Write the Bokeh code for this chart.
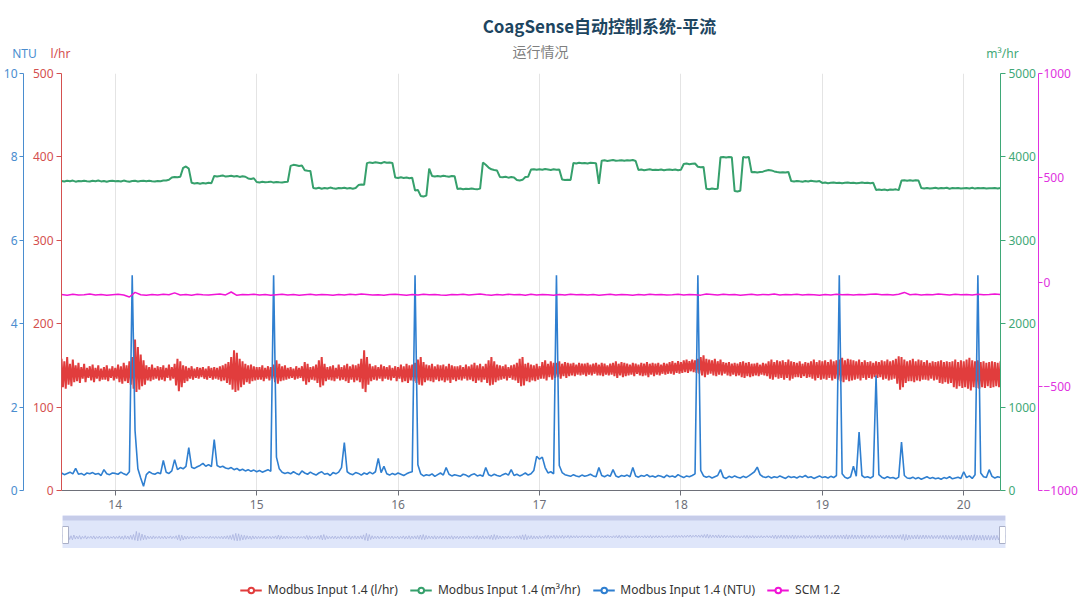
import numpy as np
from bokeh.plotting import figure
from bokeh.models import (Range1d, LinearAxis, FixedTicker, Label, Legend,
                          LegendItem, BoxAnnotation)
from bokeh.layouts import column
from bokeh.embed import file_html
from bokeh.resources import INLINE

# ---------------- data ----------------
X_START, X_END = 13.62, 20.26
X_TICKS = [14, 15, 16, 17, 18, 19, 20]
LHR_TICKS = [0, 100, 200, 300, 400, 500]
NTU_TICKS = [0, 2, 4, 6, 8, 10]
M3_TICKS = [0, 1000, 2000, 3000, 4000, 5000]
SCM_TICKS = [-1000, -500, 0, 500, 1000]

TITLE = "CoagSense自动控制系统-平流"
SUBTITLE = "运行情况"
UNITS = ["NTU", "l/hr", "m\u00b3/hr"]
SERIES_NAMES = ["Modbus Input 1.4 (l/hr)", "Modbus Input 1.4 (m\u00b3/hr)",
                "Modbus Input 1.4 (NTU)", "SCM 1.2"]

# sample spacing (days) of each logged series
RED_STEP = 0.01
GREEN_STEP = 0.02
BLUE_STEP = 0.02
SCM_STEP = 0.04

# Modbus Input 1.4 (l/hr)
red_lhr = [
    158, 124, 155, 122, 160, 127, 152, 125, 157, 130,
    150, 131, 153, 129, 148, 134, 152, 130, 147, 135,
    149, 132, 151, 130, 147, 134, 150, 131, 146, 133,
    148, 133, 150, 131, 146, 135, 149, 132, 147, 134,
    151, 130, 149, 128, 153, 131, 150, 129, 155, 127,
    160, 122, 181, 118, 172, 121, 163, 125, 156, 127,
    150, 132, 148, 131, 151, 133, 147, 134, 149, 132,
    148, 133, 150, 131, 147, 135, 151, 132, 148, 134,
    152, 126, 158, 119, 155, 124, 150, 129, 149, 131,
    147, 134, 149, 133, 146, 135, 148, 134, 147, 136,
    148, 134, 146, 133, 149, 135, 147, 133, 148, 134,
    147, 133, 149, 131, 150, 132, 152, 129, 154, 127,
    160, 121, 168, 118, 165, 120, 158, 124, 155, 127,
    152, 130, 150, 128, 151, 131, 149, 132, 148, 133,
    148, 133, 150, 131, 147, 134, 149, 132, 148, 134,
    151, 130, 156, 128, 152, 131, 149, 132, 150, 133,
    147, 134, 148, 135, 146, 133, 149, 134, 147, 135,
    149, 131, 154, 127, 152, 130, 148, 133, 149, 132,
    151, 129, 156, 124, 160, 126, 152, 131, 148, 133,
    149, 132, 150, 131, 147, 134, 151, 132, 148, 133,
    150, 131, 152, 129, 149, 133, 151, 130, 150, 132,
    152, 130, 158, 122, 168, 118, 160, 127, 152, 131,
    149, 133, 150, 132, 148, 134, 151, 131, 149, 134,
    148, 133, 150, 132, 147, 135, 149, 131, 148, 134,
    151, 130, 149, 131, 152, 129, 150, 132, 151, 131,
    153, 129, 157, 127, 160, 126, 154, 130, 151, 132,
    150, 131, 152, 130, 149, 133, 151, 131, 150, 132,
    151, 130, 149, 132, 152, 129, 150, 133, 149, 131,
    149, 133, 150, 132, 148, 134, 151, 132, 149, 133,
    151, 131, 153, 129, 150, 132, 152, 130, 149, 133,
    152, 129, 156, 126, 160, 127, 155, 130, 151, 132,
    150, 133, 149, 134, 151, 132, 148, 135, 150, 133,
    151, 132, 153, 129, 158, 125, 160, 126, 152, 131,
    153, 130, 151, 132, 150, 131, 152, 133, 149, 134,
    154, 134, 156, 132, 152, 136, 155, 133, 153, 135,
    153, 136, 155, 134, 152, 137, 154, 135, 153, 137,
    152, 138, 153, 137, 151, 139, 153, 138, 152, 139,
    152, 137, 153, 139, 151, 138, 152, 140, 153, 138,
    151, 138, 153, 137, 152, 139, 150, 138, 152, 139,
    153, 137, 155, 135, 152, 138, 154, 136, 153, 137,
    152, 138, 151, 139, 153, 137, 152, 140, 151, 138,
    153, 137, 152, 138, 154, 136, 152, 139, 153, 137,
    152, 139, 153, 138, 151, 140, 153, 139, 152, 140,
    154, 140, 155, 139, 153, 141, 155, 140, 154, 141,
    156, 142, 157, 141, 155, 143, 157, 142, 156, 141,
    158, 140, 160, 138, 162, 136, 158, 139, 157, 140,
    156, 138, 158, 137, 155, 139, 157, 138, 154, 140,
    153, 138, 154, 137, 152, 139, 153, 137, 152, 138,
    154, 136, 155, 135, 153, 137, 154, 136, 152, 137,
    152, 138, 153, 137, 151, 139, 153, 138, 152, 137,
    155, 134, 157, 133, 154, 136, 156, 134, 155, 135,
    156, 133, 154, 135, 157, 132, 155, 134, 154, 136,
    153, 136, 155, 135, 152, 137, 154, 135, 153, 136,
    155, 134, 157, 132, 154, 135, 156, 133, 155, 134,
    156, 133, 154, 135, 157, 132, 155, 134, 156, 133,
    157, 131, 159, 130, 156, 133, 158, 131, 157, 132,
    156, 133, 155, 134, 157, 132, 154, 135, 156, 133,
    154, 135, 155, 134, 153, 136, 155, 135, 154, 136,
    156, 133, 155, 134, 157, 132, 155, 133, 156, 134,
    158, 128, 161, 121, 160, 124, 157, 129, 155, 131,
    156, 131, 158, 130, 155, 132, 157, 131, 156, 133,
    154, 133, 156, 132, 153, 134, 155, 132, 154, 133,
    155, 129, 156, 128, 154, 130, 155, 128, 154, 129,
    155, 124, 157, 122, 154, 125, 156, 123, 155, 124,
    157, 122, 159, 120, 156, 124, 155, 123, 156, 122,
    154, 124, 155, 123, 153, 125, 154, 123, 155, 124,
    154, 125, 153, 124, 155,
]

# Modbus Input 1.4 (m3/hr)
green_m3 = [
    3712, 3705, 3714, 3708, 3716, 3703, 3711, 3707, 3715, 3709,
    3704, 3713, 3709, 3717, 3706, 3711, 3702, 3710, 3714, 3707,
    3712, 3705, 3716, 3708, 3703, 3711, 3714, 3706, 3710, 3713,
    3707, 3715, 3709, 3704, 3712, 3708, 3716, 3718, 3725, 3752,
    3760, 3755, 3762, 3869, 3885, 3860, 3690, 3682, 3688, 3679,
    3686, 3681, 3690, 3684, 3772, 3765, 3770, 3778, 3764, 3769,
    3773, 3766, 3771, 3760, 3768, 3762, 3742, 3736, 3744, 3699,
    3694, 3701, 3695, 3698, 3703, 3692, 3700, 3696, 3693, 3699,
    3702, 3893, 3905, 3899, 3890, 3896, 3840, 3835, 3832, 3628,
    3622, 3630, 3618, 3627, 3621, 3632, 3624, 3619, 3628, 3623,
    3630, 3621, 3626, 3619, 3627, 3662, 3668, 3665, 3925, 3934,
    3928, 3936, 3931, 3924, 3938, 3929, 3933, 3927, 3752, 3746,
    3755, 3748, 3753, 3744, 3750, 3598, 3604, 3532, 3525, 3536,
    3860, 3772, 3765, 3770, 3766, 3774, 3768, 3763, 3771, 3767,
    3615, 3621, 3612, 3619, 3614, 3622, 3616, 3611, 3620, 3932,
    3905, 3872, 3851, 3843, 3836, 3760, 3755, 3762, 3751, 3758,
    3754, 3722, 3716, 3725, 3759, 3763, 3848, 3853, 3845, 3851,
    3846, 3855, 3849, 3843, 3852, 3847, 3850, 3728, 3722, 3726,
    3724, 3928, 3922, 3930, 3924, 3927, 3921, 3929, 3926, 3923,
    3678, 3955, 3960, 3952, 3958, 3963, 3954, 3957, 3961, 3953,
    3959, 3956, 3962, 3951, 3843, 3848, 3840, 3846, 3851, 3842,
    3847, 3843, 3849, 3839, 3846, 3850, 3844, 3848, 3841, 3845,
    3915, 3920, 3912, 3918, 3921, 3882, 3876, 3880, 3618, 3612,
    3620, 3615, 3619, 3995, 4000, 3993, 3998, 3996, 3590, 3586,
    3594, 3998, 3994, 3999, 3815, 3820, 3812, 3818, 3823, 3835,
    3842, 3838, 3826, 3819, 3813, 3817, 3812, 3820, 3710, 3705,
    3712, 3707, 3703, 3711, 3706, 3714, 3709, 3704, 3710, 3688,
    3692, 3685, 3690, 3694, 3686, 3691, 3684, 3689, 3693, 3687,
    3690, 3683, 3688, 3692, 3686, 3691, 3685, 3689, 3604, 3610,
    3603, 3608, 3601, 3609, 3605, 3611, 3602, 3716, 3720, 3713,
    3719, 3714, 3721, 3717, 3626, 3622, 3628, 3620, 3625, 3629,
    3621, 3627, 3623, 3630, 3619, 3626, 3624, 3628, 3621, 3625,
    3627, 3622, 3629, 3620, 3626, 3624, 3628, 3621, 3625, 3623,
    3627, 3622, 3626,
]

# Modbus Input 1.4 (NTU)
blue_ntu = [
    0.42, 0.38, 0.41, 0.44, 0.40, 0.53, 0.39, 0.41, 0.37, 0.42,
    0.40, 0.43, 0.39, 0.41, 0.36, 0.50, 0.40, 0.38, 0.42, 0.41,
    0.39, 0.44, 0.40, 0.37, 0.45, 5.16, 1.44, 0.52, 0.30, 0.10,
    0.38, 0.45, 0.41, 0.39, 0.43, 0.40, 0.72, 0.44, 0.41, 0.47,
    0.74, 0.50, 0.55, 0.52, 0.58, 1.03, 0.56, 0.53, 0.57, 0.60,
    0.65, 0.58, 0.62, 0.57, 1.22, 0.60, 0.56, 0.58, 0.54, 0.52,
    0.55, 0.50, 0.53, 0.48, 0.51, 0.47, 0.50, 0.46, 0.49, 0.45,
    0.48, 0.44, 0.47, 0.50, 0.46, 5.16, 0.80, 0.52, 0.44, 0.41,
    0.43, 0.40, 0.45, 0.41, 0.38, 0.47, 0.42, 0.39, 0.44, 0.40,
    0.37, 0.42, 0.45, 0.39, 0.41, 0.36, 0.43, 0.40, 0.44, 0.55,
    1.15, 0.45, 0.40, 0.38, 0.43, 0.41, 0.37, 0.42, 0.39, 0.44,
    0.40, 0.45, 0.77, 0.43, 0.58, 0.40, 0.37, 0.41, 0.38, 0.42,
    0.39, 0.36, 0.40, 0.43, 0.45, 5.16, 0.62, 0.40, 0.35, 0.38,
    0.36, 0.40, 0.34, 0.38, 0.42, 0.37, 0.55, 0.39, 0.35, 0.38,
    0.36, 0.34, 0.39, 0.37, 0.33, 0.38, 0.40, 0.35, 0.37, 0.34,
    0.55, 0.38, 0.35, 0.39, 0.36, 0.34, 0.38, 0.41, 0.37, 0.50,
    0.36, 0.39, 0.35, 0.38, 0.42, 0.37, 0.40, 0.48, 0.82, 0.75,
    0.80, 0.55, 0.42, 0.45, 0.40, 5.16, 0.60, 0.43, 0.38, 0.36,
    0.34, 0.38, 0.35, 0.33, 0.37, 0.34, 0.36, 0.39, 0.35, 0.33,
    0.55, 0.36, 0.33, 0.37, 0.34, 0.50, 0.35, 0.32, 0.36, 0.34,
    0.37, 0.33, 0.55, 0.35, 0.32, 0.36, 0.34, 0.38, 0.33, 0.35,
    0.32, 0.36, 0.34, 0.31, 0.37, 0.33, 0.35, 0.32, 0.38, 0.34,
    0.31, 0.35, 0.33, 0.36, 0.40, 5.16, 0.48, 0.35, 0.32, 0.34,
    0.30, 0.33, 0.36, 0.50, 0.32, 0.29, 0.34, 0.31, 0.35, 0.32,
    0.30, 0.34, 0.31, 0.35, 0.40, 0.45, 0.56, 0.38, 0.33, 0.31,
    0.34, 0.30, 0.33, 0.31, 0.35, 0.32, 0.29, 0.34, 0.31, 0.33,
    0.30, 0.34, 0.32, 0.36, 0.31, 0.33, 0.29, 0.32, 0.35, 0.31,
    0.33, 0.30, 0.34, 0.31, 0.36, 5.16, 0.40, 0.32, 0.29, 0.33,
    0.58, 0.34, 1.40, 0.36, 0.31, 0.33, 0.30, 0.34, 2.76, 0.38,
    0.32, 0.29, 0.33, 0.30, 0.31, 0.28, 0.32, 1.16, 0.36, 0.30,
    0.29, 0.32, 0.28, 0.31, 0.27, 0.30, 0.33, 0.29, 0.31, 0.28,
    0.30, 0.27, 0.31, 0.29, 0.33, 0.28, 0.30, 0.32, 0.29, 0.45,
    0.31, 0.35, 0.29, 0.38, 5.16, 0.42, 0.33, 0.31, 0.50, 0.34,
    0.30, 0.33, 0.31,
]

# SCM 1.2
scm_12 = [
    -60, -63, -59, -62, -61, -58, -62, -60, -63, -61,
    -59, -62, -72, -50, -61, -63, -60, -62, -59, -61,
    -52, -62, -60, -63, -59, -61, -62, -60, -58, -62,
    -48, -64, -60, -61, -59, -62, -60, -63, -61, -59,
    -62, -60, -63, -61, -59, -62, -60, -61, -64, -60,
    -62, -59, -61, -58, -60, -62, -61, -63, -60, -59,
    -61, -63, -60, -62, -59, -61, -60, -62, -63, -60,
    -61, -59, -62, -60, -58, -61, -63, -60, -62, -59,
    -61, -60, -63, -59, -62, -60, -61, -63, -60, -62,
    -59, -61, -60, -62, -60, -63, -61, -59, -62, -60,
    -61, -63, -60, -62, -59, -61, -60, -62, -61, -59,
    -62, -60, -61, -63, -58, -60, -62, -59, -61, -60,
    -63, -61, -59, -62, -60, -61, -58, -62, -60, -61,
    -59, -62, -60, -61, -63, -60, -62, -59, -61, -60,
    -62, -60, -61, -59, -58, -61, -60, -62, -59, -50,
    -61, -59, -62, -60, -61, -58, -60, -62, -59, -61,
    -60, -62, -59, -61, -60, -58, -60,
]

# sample times (days) of each series
red_t = np.round(X_START + RED_STEP * np.arange(len(red_lhr)), 3)
green_t = np.round(X_START + GREEN_STEP * np.arange(len(green_m3)), 3)
blue_t = np.round(X_START + BLUE_STEP * np.arange(len(blue_ntu)), 3)
scm_t = np.round(X_START + SCM_STEP * np.arange(len(scm_12)), 3)

# ---------------- styles ----------------
RED, RED_AX = "#e13d3d", "#d4504f"
GREEN, GREEN_AX = "#36a06c", "#3fa877"
BLUE, BLUE_AX = "#2f7fd0", "#4a8dcf"
MAG, MAG_AX = "#f014d6", "#e032e0"
FONT = "Noto Sans"
CJK = "Noto Sans CJK SC"
W = 1080


def bare(fig):
    fig.outline_line_color = None
    fig.grid.grid_line_color = None
    return fig


# ---------------- header (title, subtitle, axis units) ----------------
HDR_H = 64
ph = bare(figure(width=W, height=HDR_H, x_range=Range1d(0, W),
                 y_range=Range1d(HDR_H, 0), toolbar_location=None,
                 output_backend="svg", x_axis_location=None,
                 y_axis_location=None, min_border_left=0, min_border_right=0,
                 min_border_top=0, min_border_bottom=0, frame_align=False))
ph.add_layout(Label(x=599, y=25, text=TITLE, text_align="center",
                    text_baseline="middle", text_font=CJK, text_font_style="bold",
                    text_font_size="17px", text_color="#1d4560"))
ph.add_layout(Label(x=540, y=50, text=SUBTITLE, text_align="center",
                    text_baseline="middle", text_font=CJK, text_font_size="14px",
                    text_color="#7f7f7f"))
for txt, xpos, col in zip(UNITS, [24, 60, 1002], [BLUE_AX, RED_AX, GREEN_AX]):
    ph.add_layout(Label(x=xpos, y=53, text=txt, text_align="center",
                        text_baseline="middle", text_font=FONT,
                        text_font_size="12px", text_color=col))

# ---------------- main chart ----------------
p = figure(width=W, height=450, x_range=Range1d(X_START, X_END),
           y_range=Range1d(LHR_TICKS[0], LHR_TICKS[-1]),
           toolbar_location=None, output_backend="svg", frame_align=False,
           min_border_left=61, min_border_right=79,
           min_border_top=9, min_border_bottom=24)
p.outline_line_color = None
p.extra_y_ranges = {
    "ntu": Range1d(NTU_TICKS[0], NTU_TICKS[-1]),
    "m3": Range1d(M3_TICKS[0], M3_TICKS[-1]),
    "scm": Range1d(SCM_TICKS[0], SCM_TICKS[-1]),
}


def style_axis(ax, color, ticks, standoff=3, tick_out=5):
    ax.ticker = FixedTicker(ticks=ticks)
    ax.axis_line_color = color
    ax.axis_line_width = 1
    ax.major_tick_line_color = color
    ax.major_tick_out = tick_out
    ax.major_tick_in = 0
    ax.minor_tick_line_color = None
    ax.major_label_text_color = color
    ax.major_label_text_font = FONT
    ax.major_label_text_font_size = "12px"
    ax.major_label_standoff = standoff


red_ax = p.yaxis[0]
style_axis(red_ax, RED_AX, LHR_TICKS)
red_ax.axis_label = " "
red_ax.axis_label_text_font_size = "3px"
red_ax.axis_label_standoff = 0

blue_ax = LinearAxis(y_range_name="ntu")
style_axis(blue_ax, BLUE_AX, NTU_TICKS, standoff=2, tick_out=4)
p.add_layout(blue_ax, "left")

green_ax = LinearAxis(y_range_name="m3")
style_axis(green_ax, GREEN_AX, M3_TICKS)
p.add_layout(green_ax, "right")

mag_ax = LinearAxis(y_range_name="scm")
style_axis(mag_ax, MAG_AX, SCM_TICKS, standoff=1, tick_out=4)
p.add_layout(mag_ax, "right")

xa = p.xaxis[0]
xa.ticker = FixedTicker(ticks=X_TICKS)
xa.axis_line_color = "#6e7079"
xa.major_tick_line_color = "#6e7079"
xa.major_tick_out = 5
xa.major_tick_in = 0
xa.minor_tick_line_color = None
xa.major_label_text_color = "#6e7079"
xa.major_label_text_font = FONT
xa.major_label_text_font_size = "12px"
xa.major_label_standoff = 4

p.xgrid.ticker = FixedTicker(ticks=X_TICKS)
p.xgrid.grid_line_color = "#e4e4e4"
p.ygrid.grid_line_color = None

p.line(red_t, red_lhr, color=RED, line_width=2)
p.line(green_t, green_m3, color=GREEN, line_width=2, y_range_name="m3")
p.line(blue_t, blue_ntu, color=BLUE, line_width=1.6, y_range_name="ntu")
p.line(scm_t, scm_12, color=MAG, line_width=1.5, y_range_name="scm")

# ---------------- data-zoom slider ----------------
SL_LO, SL_HI = 67, 287
p2 = bare(figure(width=W, height=34, x_range=Range1d(X_START, X_END),
                 y_range=Range1d(SL_LO, SL_HI), toolbar_location=None,
                 output_backend="svg", x_axis_location=None,
                 y_axis_location=None, frame_align=False,
                 min_border_left=62, min_border_right=75, min_border_top=1,
                 min_border_bottom=0, background_fill_color="#dfe6fa"))
p2.add_layout(BoxAnnotation(bottom=SL_HI - 33, fill_color="#c6cce9", fill_alpha=1,
                            line_color=None))
p2.line(red_t, red_lhr, color="#a9b3de", line_width=0.8)
px = (X_END - X_START) / 943.0
p2.rect(x=[X_START + 3 * px, X_END - 3 * px], y=[SL_LO + 90, SL_LO + 90],
        width=6, height=17, width_units="screen", height_units="screen",
        fill_color="white", line_color="#aab0c8", line_width=1)

# ---------------- legend ----------------
p3 = bare(figure(width=W, height=53, x_range=Range1d(0, 1), y_range=Range1d(0, 1),
                 toolbar_location=None, output_backend="svg",
                 x_axis_location=None, y_axis_location=None, frame_align=False,
                 min_border_left=0, min_border_right=0, min_border_top=0,
                 min_border_bottom=0))
items = []
series = [(red_t, red_lhr), (green_t, green_m3), (blue_t, blue_ntu), (scm_t, scm_12)]
for name, col, (tx, vy) in zip(SERIES_NAMES, [RED, GREEN, BLUE, MAG], series):
    # same series, out of this strip's view: only their legend icons show
    ln = p3.line(tx, vy, color=col, line_width=2)
    sc = p3.scatter(tx[:1], vy[:1], marker="circle", size=11, line_color=col,
                    fill_color="white", line_width=2)
    items.append(LegendItem(label=name, renderers=[ln, sc]))
leg = Legend(items=items, orientation="horizontal", location="bottom_center",
             label_text_font=FONT, label_text_font_size="12px",
             label_text_color="#333333", glyph_width=22, glyph_height=14,
             label_standoff=6, spacing=12, padding=0, margin=3,
             border_line_color=None, background_fill_alpha=0)
p3.add_layout(leg, "center")

layout = column(ph, p, p2, p3)
open("out.html", "w").write(file_html(layout, INLINE, "CoagSense"))
